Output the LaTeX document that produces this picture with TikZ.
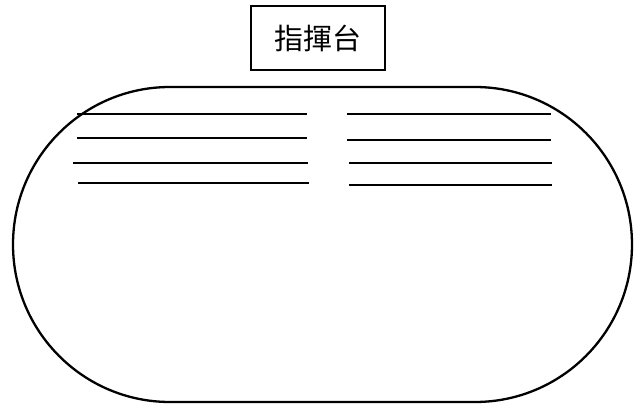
\documentclass[tikz,border=0pt]{standalone}
\usepackage{fontspec}
\newfontfamily\cjk{Noto Sans CJK TC}
\begin{document}
\begin{tikzpicture}[x=1pt,y=-1pt]
\useasboundingbox (0,0) rectangle (638,406);
\node[draw,line width=1.4pt,minimum width=134pt,minimum height=64pt,inner sep=0pt] (podium) at (318,38) {\cjk\fontsize{29}{32}\selectfont 指揮台};
\draw[line width=2.3pt] (170,87) -- (475,87)
  arc[start angle=-90,end angle=90,x radius=157,y radius=157.5]
  -- (170,402)
  arc[start angle=90,end angle=270,x radius=157,y radius=157.5]
  -- cycle;
\coordinate (L1a) at (77,114);
\coordinate (L1b) at (307,114);
\coordinate (L2a) at (77,138);
\coordinate (L2b) at (307,138);
\coordinate (L3a) at (73,163);
\coordinate (L3b) at (308,163);
\coordinate (L4a) at (78,183);
\coordinate (L4b) at (309,183);
\coordinate (R1a) at (347,114);
\coordinate (R1b) at (551,114);
\coordinate (R2a) at (347,140);
\coordinate (R2b) at (551,140);
\coordinate (R3a) at (349,163);
\coordinate (R3b) at (552,163);
\coordinate (R4a) at (349,185);
\coordinate (R4b) at (552,185);
\path[line width=2.3pt]
  (L1a) edge (L1b)
  (L2a) edge (L2b)
  (L3a) edge (L3b)
  (L4a) edge (L4b)
  (R1a) edge (R1b)
  (R2a) edge (R2b)
  (R3a) edge (R3b)
  (R4a) edge (R4b)
;
\end{tikzpicture}
\end{document}
